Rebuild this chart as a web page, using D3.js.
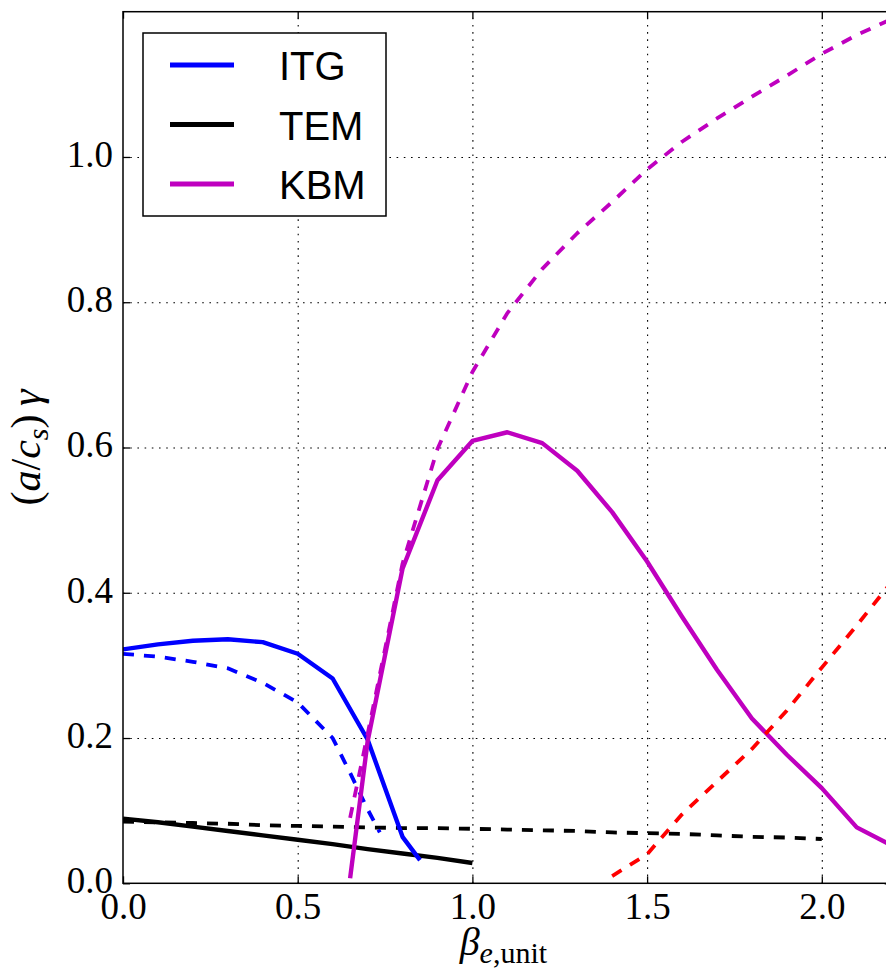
<!DOCTYPE html>
<html>
<head>
<meta charset="utf-8">
<script src="https://cdn.jsdelivr.net/npm/d3@7"></script>
<style>
  html, body { margin: 0; padding: 0; background: #fff; overflow: hidden; }
  svg { display: block; }
</style>
</head>
<body>
<script>
// Growth rate (a/c_s)γ versus β_e,unit for the three instabilities.
// Solid: one scan, dashed: the companion scan.

const xTicks = [0.0, 0.5, 1.0, 1.5, 2.0];
const yTicks = [0.0, 0.2, 0.4, 0.6, 0.8, 1.0];

const itgSolidBeta = [0.0, 0.1, 0.2, 0.3, 0.4, 0.5, 0.6, 0.7, 0.8, 0.85];
const itgSolidGamma = [0.322, 0.329, 0.334, 0.336, 0.332, 0.316, 0.282, 0.198, 0.064, 0.032];

const itgDashedBeta = [0.0, 0.1, 0.2, 0.3, 0.4, 0.5, 0.6, 0.65, 0.7, 0.735];
const itgDashedGamma = [0.316, 0.312, 0.305, 0.296, 0.276, 0.249, 0.200, 0.152, 0.102, 0.070];

const temSolidBeta = [0.0, 0.1, 0.2, 0.3, 0.4, 0.5, 0.6, 0.7, 0.8, 0.9, 1.0];
const temSolidGamma = [0.089, 0.084, 0.078, 0.072, 0.066, 0.060, 0.054, 0.047, 0.041, 0.035, 0.028];

const temDashedBeta = [0.0, 0.1, 0.2, 0.3, 0.4, 0.5, 0.6, 0.7, 0.8, 0.9, 1.0,
                       1.1, 1.2, 1.3, 1.4, 1.5, 1.6, 1.7, 1.8, 1.9, 2.0];
const temDashedGamma = [0.085, 0.084, 0.083, 0.082, 0.080, 0.079, 0.078, 0.077, 0.076, 0.076, 0.075,
                        0.074, 0.073, 0.072, 0.070, 0.069, 0.068, 0.066, 0.064, 0.063, 0.061];

const kbmSolidBeta = [0.65, 0.7, 0.8, 0.9, 1.0, 1.1, 1.2, 1.3, 1.4, 1.5, 1.6, 1.7, 1.8, 1.9, 2.0, 2.1, 2.2];
const kbmSolidGamma = [0.007, 0.195, 0.433, 0.555, 0.609, 0.621, 0.606, 0.568, 0.511, 0.443,
                       0.367, 0.294, 0.227, 0.177, 0.131, 0.077, 0.052];

const kbmDashedBeta = [0.65, 0.7, 0.8, 0.9, 1.0, 1.1, 1.2, 1.3, 1.4, 1.5, 1.6, 1.7, 1.8, 1.9, 2.0, 2.1, 2.2];
const kbmDashedGamma = [0.090, 0.205, 0.440, 0.598, 0.704, 0.785, 0.846, 0.895, 0.938, 0.983,
                        1.021, 1.053, 1.083, 1.112, 1.142, 1.168, 1.190];

const highBetaDashedBeta = [1.4, 1.5, 1.6, 1.7, 1.8, 1.9, 2.0, 2.1, 2.2];
const highBetaDashedGamma = [0.010, 0.040, 0.095, 0.140, 0.185, 0.238, 0.297, 0.355, 0.415];

const legendNames = ["ITG", "TEM", "KBM"];
const legendColors = ["#0000ff", "#000000", "#bf00bf"];

// ---- layout ----
const W = 886, H = 971;
const plotLeft = 123, plotTop = 11.7, plotBottom = 883.3;
const plotRight = plotLeft + 2.2 * 349.4;

const x = d3.scaleLinear().domain([0, 2.2]).range([plotLeft, plotRight]);
const y = d3.scaleLinear().domain([0, 1.2]).range([plotBottom, plotTop]);

const svg = d3.select("body").append("svg")
  .attr("width", W).attr("height", H)
  .attr("viewBox", `0 0 ${W} ${H}`);

svg.append("defs").append("clipPath").attr("id", "plotClip")
  .append("rect")
  .attr("x", plotLeft).attr("y", plotTop)
  .attr("width", plotRight - plotLeft).attr("height", plotBottom - plotTop);

const serif = "'Liberation Serif', 'DejaVu Serif', serif";
const sans = "'Liberation Sans', Arial, sans-serif";

// ---- dotted grid ----
const gridX = svg.append("g")
  .attr("transform", `translate(0,${plotBottom})`)
  .call(d3.axisBottom(x).tickValues(xTicks.filter(v => v > 0))
    .tickSize(-(plotBottom - plotTop)).tickFormat(""));
const gridY = svg.append("g")
  .attr("transform", `translate(${plotLeft},0)`)
  .call(d3.axisLeft(y).tickValues(yTicks.filter(v => v > 0))
    .tickSize(-(plotRight - plotLeft)).tickFormat(""));
[gridX, gridY].forEach(g => {
  g.select(".domain").remove();
  g.selectAll(".tick line")
    .attr("stroke", "#000")
    .attr("stroke-width", 1.1)
    .attr("stroke-dasharray", "1.6,5.6");
});

// ---- curves ----
const line = d3.line().x(d => x(d[0])).y(d => y(d[1]));
const curves = svg.append("g").attr("clip-path", "url(#plotClip)");

function drawCurve(betas, gammas, color, dashed) {
  curves.append("path")
    .datum(d3.zip(betas, gammas))
    .attr("d", line)
    .attr("fill", "none")
    .attr("stroke", color)
    .attr("stroke-width", dashed ? 3.8 : 4.4)
    .attr("stroke-linejoin", "round")
    .attr("stroke-dasharray", dashed ? "11,10" : null);
}

drawCurve(temSolidBeta, temSolidGamma, legendColors[1], false);
drawCurve(temDashedBeta, temDashedGamma, legendColors[1], true);
drawCurve(itgSolidBeta, itgSolidGamma, legendColors[0], false);
drawCurve(itgDashedBeta, itgDashedGamma, legendColors[0], true);
drawCurve(kbmSolidBeta, kbmSolidGamma, legendColors[2], false);
drawCurve(kbmDashedBeta, kbmDashedGamma, legendColors[2], true);
drawCurve(highBetaDashedBeta, highBetaDashedGamma, "#ff0000", true);

// ---- frame and inward ticks ----
svg.append("rect")
  .attr("x", plotLeft).attr("y", plotTop)
  .attr("width", plotRight - plotLeft).attr("height", plotBottom - plotTop)
  .attr("fill", "none").attr("stroke", "#000").attr("stroke-width", 1.5);

const xAxis = svg.append("g")
  .attr("transform", `translate(0,${plotBottom})`)
  .call(d3.axisBottom(x).tickValues(xTicks).tickSizeInner(-7).tickSizeOuter(0)
    .tickPadding(9).tickFormat(d3.format(".1f")));
const xAxisTop = svg.append("g")
  .attr("transform", `translate(0,${plotTop})`)
  .call(d3.axisTop(x).tickValues(xTicks).tickSizeInner(-7).tickSizeOuter(0).tickFormat(""));
const yAxis = svg.append("g")
  .attr("transform", `translate(${plotLeft},0)`)
  .call(d3.axisLeft(y).tickValues(yTicks).tickSizeInner(-7).tickSizeOuter(0)
    .tickPadding(10).tickFormat(d3.format(".1f")));
const yAxisRight = svg.append("g")
  .attr("transform", `translate(${plotRight},0)`)
  .call(d3.axisRight(y).tickValues(yTicks).tickSizeInner(-7).tickSizeOuter(0).tickFormat(""));

[xAxis, xAxisTop, yAxis, yAxisRight].forEach(g => {
  g.attr("font-family", null);
  g.select(".domain").remove();
  g.selectAll(".tick line").attr("stroke", "#000").attr("stroke-width", 1.3);
  g.selectAll(".tick text")
    .attr("fill", "#000")
    .attr("font-family", serif)
    .style("font-family", serif)
    .style("font-size", "37px");
});
yAxis.selectAll(".tick text").attr("dy", "0.25em");

// ---- axis titles ----
const xTitle = svg.append("text")
  .attr("x", (plotLeft + plotRight) / 2 - 4).attr("y", 955)
  .attr("text-anchor", "middle")
  .style("font-family", serif).style("font-size", "40px");
xTitle.append("tspan").style("font-style", "italic").text("β");
xTitle.append("tspan").attr("dy", 8).style("font-size", "30px")
  .style("font-style", "italic").text("e");
xTitle.append("tspan").style("font-size", "30px").text(",unit");

const yTitle = svg.append("text")
  .attr("transform", `translate(40,${(plotTop + plotBottom) / 2}) rotate(-90)`)
  .attr("text-anchor", "middle")
  .style("font-family", serif).style("font-size", "42px");
yTitle.append("tspan").text("(");
yTitle.append("tspan").style("font-style", "italic").text("a");
yTitle.append("tspan").text("/");
yTitle.append("tspan").style("font-style", "italic").text("c");
yTitle.append("tspan").attr("dy", 8).style("font-size", "30px")
  .style("font-style", "italic").text("s");
yTitle.append("tspan").attr("dy", -8).text(")\u2009");
yTitle.append("tspan").style("font-style", "italic").text("γ");

// ---- legend ----
const legend = svg.append("g");
legend.append("rect")
  .attr("x", 143).attr("y", 33).attr("width", 243).attr("height", 183)
  .attr("fill", "#fff").attr("stroke", "#000").attr("stroke-width", 1.5);
const rowY = d3.scalePoint().domain(legendNames).range([65, 184]);
legendNames.forEach((name, i) => {
  legend.append("line")
    .attr("x1", 170).attr("x2", 234)
    .attr("y1", rowY(name)).attr("y2", rowY(name))
    .attr("stroke", legendColors[i]).attr("stroke-width", 5);
  legend.append("text")
    .attr("x", 279).attr("y", rowY(name) + 15)
    .style("font-family", sans).style("font-size", "40px")
    .attr("fill", "#000")
    .text(name);
});
</script>
</body>
</html>
